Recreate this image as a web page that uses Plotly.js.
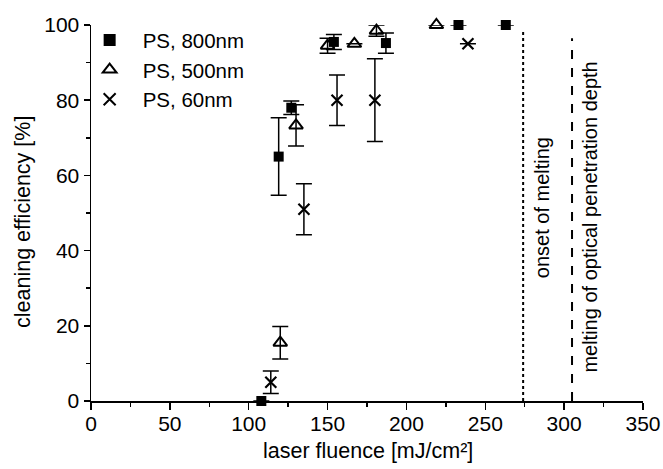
<!DOCTYPE html>
<html><head><meta charset="utf-8">
<script src="https://cdn.plot.ly/plotly-3.0.1.min.js"></script>
<style>html,body{margin:0;padding:0;background:#fff}#chart{width:663px;height:469px}</style>
</head><body><div id="chart"></div>
<script>
// PS, 800nm
const x800 = [108, 119, 127, 154, 187, 233, 263];
const y800 = [0, 65, 78, 95.5, 95.2, 100, 100];
const e800 = [null, 10.3, 1.8, 2, 2.7, null, null];
// PS, 500nm
const x500 = [120, 130, 150, 167, 181, 219];
const y500 = [15.5, 73.3, 94.5, 95, 98.5, 100];
const e500 = [4.3, 5.5, 2, null, 1.5, null];
// PS, 60nm
const x60 = [114, 135, 156, 180, 239];
const y60 = [5, 51, 80, 80, 95];
const e60 = [3, 6.8, 6.7, 11, null];
// reference lines
const lineX = [274, 305];
const lineTop = [98.6, 96.5];
const lineLabels = ["onset of melting", "melting of optical penetration depth"];
const labelX = [286.5, 316.3];
const labelY = [51.5, 49];
const xTitle = "laser fluence [mJ/cm²]";
const yTitle = "cleaning efficiency [%]";

const FONT = "Liberation Sans, Arial, sans-serif";
const err = arr => ({type:'data', array: arr, visible:true, color:'#000', thickness:1.5, width:8});

const traces = [
  {x:x800, y:y800, name:'PS, 800nm', mode:'markers', type:'scatter', cliponaxis:false,
   marker:{symbol:'square', size:10, color:'#000'}, error_y: err(e800)},
  {x:x500, y:y500, name:'PS, 500nm', mode:'markers', type:'scatter', cliponaxis:false,
   marker:{symbol:'triangle-up-open', size:12, color:'#000', line:{width:2, color:'#000'}}, error_y: err(e500)},
  {x:x60, y:y60, name:'PS, 60nm', mode:'markers', type:'scatter', cliponaxis:false,
   marker:{symbol:'x-thin-open', size:11, color:'#000', line:{width:2.2, color:'#000'}}, error_y: err(e60)}
];

const annots = lineLabels.map((t,i)=>({text:t, xref:'x', yref:'y', x:labelX[i], y:labelY[i],
     textangle:-90, showarrow:false, font:{family:FONT, size:20, color:'#000'}}));
annots.push({text:yTitle, xref:'paper', yref:'paper', x:(24-91.3)/551.7, y:(400.7-222)/376,
     xanchor:'center', yanchor:'middle', textangle:-90, showarrow:false,
     font:{family:FONT, size:21.5, color:'#000'}});
annots.push({text:xTitle, xref:'paper', yref:'paper', x:(368-91.3)/551.7, y:-(451-400.7)/376,
     xanchor:'center', yanchor:'middle', showarrow:false,
     font:{family:FONT, size:21.5, color:'#000'}});

const layout = {
  width:663, height:469,
  margin:{l:91.3, r:20, t:24.7, b:68.3},
  paper_bgcolor:'#fff', plot_bgcolor:'#fff',
  font:{family:FONT, size:21, color:'#000'},
  showlegend:true,
  legend:{x:-0.026, y:1.013, xanchor:'left', yanchor:'top', bgcolor:'rgba(0,0,0,0)', itemwidth:56,
          font:{family:FONT, size:20.5, color:'#000'}, tracegroupgap:0, itemsizing:'constant'},
  xaxis:{range:[0,350], showgrid:false, zeroline:false, showline:true, linecolor:'#000', linewidth:1.5,
         ticks:'outside', ticklen:7, tickwidth:1.5, tickcolor:'#000', dtick:50, tick0:0,
         ticklabelstandoff:-4,
         minor:{ticks:'outside', ticklen:4, tickwidth:1.5, tickcolor:'#000', dtick:25},
         tickfont:{family:FONT, size:21, color:'#000'}},
  yaxis:{range:[0,100], showgrid:false, zeroline:false, showline:true, linecolor:'#000', linewidth:1.5,
         ticks:'outside', ticklen:6, tickwidth:1.5, tickcolor:'#000', dtick:20, tick0:0,
         minor:{ticks:'outside', ticklen:4, tickwidth:1.5, tickcolor:'#000', dtick:10},
         tickfont:{family:FONT, size:21, color:'#000'}},
  shapes: lineX.map((xv,i)=>({type:'line', xref:'x', yref:'y', x0:xv, x1:xv, y0:0, y1:lineTop[i],
     line:{color:'#000', width:2, dash: i===0 ? 'dot' : 'dash'}})),
  annotations: annots
};

Plotly.newPlot('chart', traces, layout, {displayModeBar:false, staticPlot:true});
</script></body></html>
